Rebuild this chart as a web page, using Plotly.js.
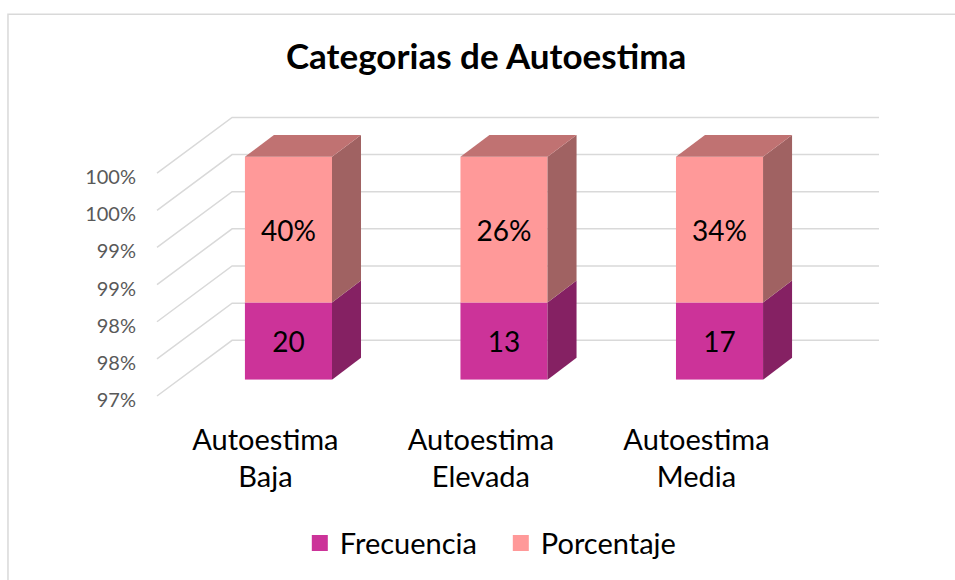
<!DOCTYPE html>
<html>
<head>
<meta charset="utf-8">
<script src="https://cdn.plot.ly/plotly-3.0.1.min.js"></script>
<style>html,body{margin:0;padding:0;background:#fff;}#chart{width:955px;height:580px;}</style>
</head>
<body>
<div id="chart"></div>
<script>
// ---- data ----
const categories = ['Autoestima Baja', 'Autoestima Elevada', 'Autoestima Media'];
const frecuencia = [20, 13, 17];
const porcentaje = [0.40, 0.26, 0.34];
const seriesNames = ['Frecuencia', 'Porcentaje'];
const yTicks = [97, 97.5, 98, 98.5, 99, 99.5, 100];
const chartTitle = 'Categorias de Autoestima';

// ---- style constants ----
const FONT = 'Lato, "Open Sans", sans-serif';
const yMin = 97, yMax = 100;
const barW = 0.404;            // bar width in category units
const depthX = 0.1346;         // bar depth (category units)
const depthY = 0.294;          // bar depth (y units)
const gridDX = 0.104;          // wall depth (paper fraction)
const gridDY = 0.75;           // wall depth (y2 units)
const labelShift = -0.107;     // category labels on the front plane
const colFrontF = '#CC3399', colSideF = '#852163';
const colFrontP = '#FF9999', colSideP = '#A06262', colTopP = '#C07272';

const idx = categories.map((c, i) => i);
// 100% stacked shares
const shareF = frecuencia.map((f, i) => f / (f + porcentaje[i]) * 100);

const traces = [
  {
    type: 'bar', x: idx, base: shareF.map(() => yMin), y: shareF.map(s => s - yMin),
    width: barW, marker: {color: colFrontF, line: {width: 0}},
    text: frecuencia.map(String), textposition: 'inside', insidetextanchor: 'middle',
    textangle: 0, constraintext: 'none',
    textfont: {family: FONT, size: 28, color: '#000000'},
    showlegend: false, hoverinfo: 'skip', name: seriesNames[0]
  },
  {
    type: 'bar', x: idx, base: shareF, y: shareF.map(s => yMax - s),
    width: barW, marker: {color: colFrontP, line: {width: 0}},
    text: porcentaje.map(p => Math.round(p * 100) + '%'), textposition: 'inside', insidetextanchor: 'middle',
    textangle: 0, constraintext: 'none',
    textfont: {family: FONT, size: 28, color: '#000000'},
    showlegend: false, hoverinfo: 'skip', name: seriesNames[1]
  },
  // legend entries
  {type: 'scatter', mode: 'markers', x: [null], y: [null], name: seriesNames[0],
   marker: {symbol: 'square', size: 18, color: colFrontF}, hoverinfo: 'skip'},
  {type: 'scatter', mode: 'markers', x: [null], y: [null], name: seriesNames[1],
   marker: {symbol: 'square', size: 18, color: colFrontP}, hoverinfo: 'skip'},
  // carrier for the front-plane value axis
  {type: 'scatter', x: [null], y: [null], yaxis: 'y2', showlegend: false, hoverinfo: 'skip'}
];

const shapes = [];
// walls / gridlines
yTicks.forEach(v => {
  shapes.push({
    type: 'path', xref: 'paper', yref: 'y2', layer: 'below',
    path: `M0,${v} L${gridDX},${v + gridDY} L1,${v + gridDY}`,
    line: {color: '#D9D9D9', width: 1.5}
  });
});
// 3D faces of bars
idx.forEach(i => {
  const hw = barW / 2, s = shareF[i];
  const xr = i + hw, xl = i - hw;
  shapes.push({type: 'path', xref: 'x', yref: 'y', layer: 'above', line: {width: 0}, fillcolor: colSideF,
    path: `M${xr},${yMin} L${xr + depthX},${yMin + depthY} L${xr + depthX},${s + depthY} L${xr},${s} Z`});
  shapes.push({type: 'path', xref: 'x', yref: 'y', layer: 'above', line: {width: 0}, fillcolor: colSideP,
    path: `M${xr},${s} L${xr + depthX},${s + depthY} L${xr + depthX},${yMax + depthY} L${xr},${yMax} Z`});
  shapes.push({type: 'path', xref: 'x', yref: 'y', layer: 'above', line: {width: 0}, fillcolor: colTopP,
    path: `M${xl},${yMax} L${xl + depthX},${yMax + depthY} L${xr + depthX},${yMax + depthY} L${xr},${yMax} Z`});
});
// chart border
shapes.push({type: 'rect', xref: 'paper', yref: 'paper', layer: 'below',
  x0: -0.2064, x1: 1.12, y0: -0.65, y1: 1.318, line: {color: '#D9D9D9', width: 1.5}});

const layout = {
  width: 955, height: 580,
  margin: {l: 157, r: 76, t: 108, b: 175},
  paper_bgcolor: '#ffffff', plot_bgcolor: 'rgba(0,0,0,0)',
  font: {family: FONT, color: '#000000'},
  title: {text: '<b>' + chartTitle + '</b>', font: {family: FONT, size: 35, color: '#000000'},
          x: 0.509, xref: 'container', xanchor: 'center', y: 0.902, yref: 'container', yanchor: 'middle'},
  barmode: 'overlay',
  xaxis: {
    range: [-0.610, 2.740], fixedrange: true, showgrid: false, zeroline: false, showline: false,
    tickmode: 'array', tickvals: idx.map(i => i + labelShift),
    ticktext: categories.map(c => c.replace(' ', '<br>')),
    ticks: '', ticklabelstandoff: 40,
    tickfont: {family: FONT, size: 29, color: '#000000'}
  },
  yaxis: {
    domain: [0.0791, 1], range: [yMin, 100.656], fixedrange: true,
    showgrid: false, zeroline: false, showline: false, showticklabels: false, ticks: ''
  },
  yaxis2: {
    domain: [0, 1], range: [96.906, 100.877], anchor: 'x', fixedrange: true,
    showgrid: false, zeroline: false, showline: false,
    tickmode: 'array', tickvals: yTicks, ticktext: yTicks.map(v => v.toFixed(0) + '%'),
    ticks: '', ticklabelstandoff: 20, ticklabelshift: 4,
    tickfont: {family: FONT, size: 20, color: '#595959'}
  },
  legend: {orientation: 'h', x: 0.1978, xanchor: 'left', y: -0.475, yanchor: 'middle',
           entrywidth: 156, entrywidthmode: 'pixels',
           font: {family: FONT, size: 29, color: '#000000'}, itemclick: false, itemdoubleclick: false},
  shapes: shapes,
  hovermode: false
};

Plotly.newPlot('chart', traces, layout, {displayModeBar: false, staticPlot: true});
</script>
</body>
</html>
